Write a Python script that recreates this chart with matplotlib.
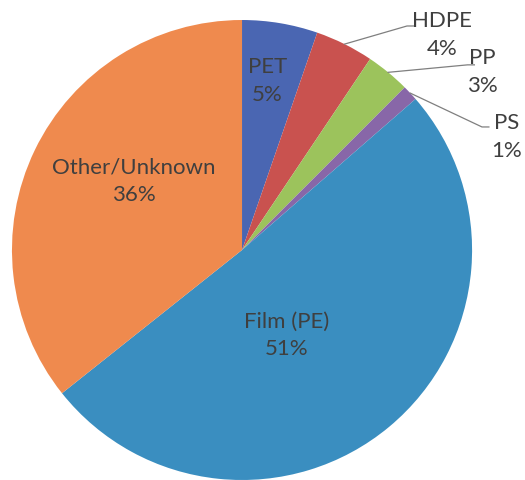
import matplotlib
matplotlib.use("Agg")
import matplotlib.pyplot as plt
import numpy as np

plt.rcParams['font.family'] = ['Lato', 'DejaVu Sans']

# share of each plastic type (percent)
categories = ['PET', 'HDPE', 'PP', 'PS', 'Film (PE)', 'Other/Unknown']
shares = [5.3, 4.1, 3.1, 1.1, 50.7, 35.7]
pct_labels = ['5%', '4%', '3%', '1%', '51%', '36%']
colors = ['#4a66b2', '#c9524f', '#9cc35c', '#8867a8', '#3a8ec0', '#ef8a4e']

fig = plt.figure(figsize=(5.25, 4.8), dpi=100)
ax = fig.add_axes([0, 0, 1, 1])

wedges, _ = ax.pie(shares, colors=colors, startangle=90, counterclock=False,
                   radius=1.0, wedgeprops=dict(linewidth=0))

# pie() resets limits/aspect, so fix them afterwards
ax.set_aspect('auto')
ax.set_xlim(-1.052, 1.230)
ax.set_ylim(-1.0, 1.087)
ax.axis('off')

txt_color = '#3f3f3f'
fs = 16

# labels drawn inside the wedges
inside = {0: (0.11, 0.735), 4: (0.195, -0.37), 5: (-0.47, 0.30)}
for i, (x, y) in inside.items():
    ax.text(x, y, f"{categories[i]}\n{pct_labels[i]}", ha='center', va='center',
            fontsize=fs, color=txt_color, linespacing=1.45)

# small slices get leader lines
outside = {1: ((0.717, 0.974), (0.87, 0.935)),
           2: ((0.980, 0.805), (1.046, 0.774)),
           3: ((1.043, 0.535), (1.152, 0.491))}
for i, (end, lab) in outside.items():
    w = wedges[i]
    ang = np.deg2rad((w.theta1 + w.theta2) / 2)
    start = (np.cos(ang), np.sin(ang))
    ax.plot([start[0], end[0], end[0] + 0.03], [start[1], end[1], end[1]],
            color='#7f7f7f', lw=0.9)
    ax.text(lab[0], lab[1], f"{categories[i]}\n{pct_labels[i]}", ha='center', va='center',
            fontsize=fs, color=txt_color, linespacing=1.45)

fig.savefig('out.png', dpi=100, facecolor='white')
